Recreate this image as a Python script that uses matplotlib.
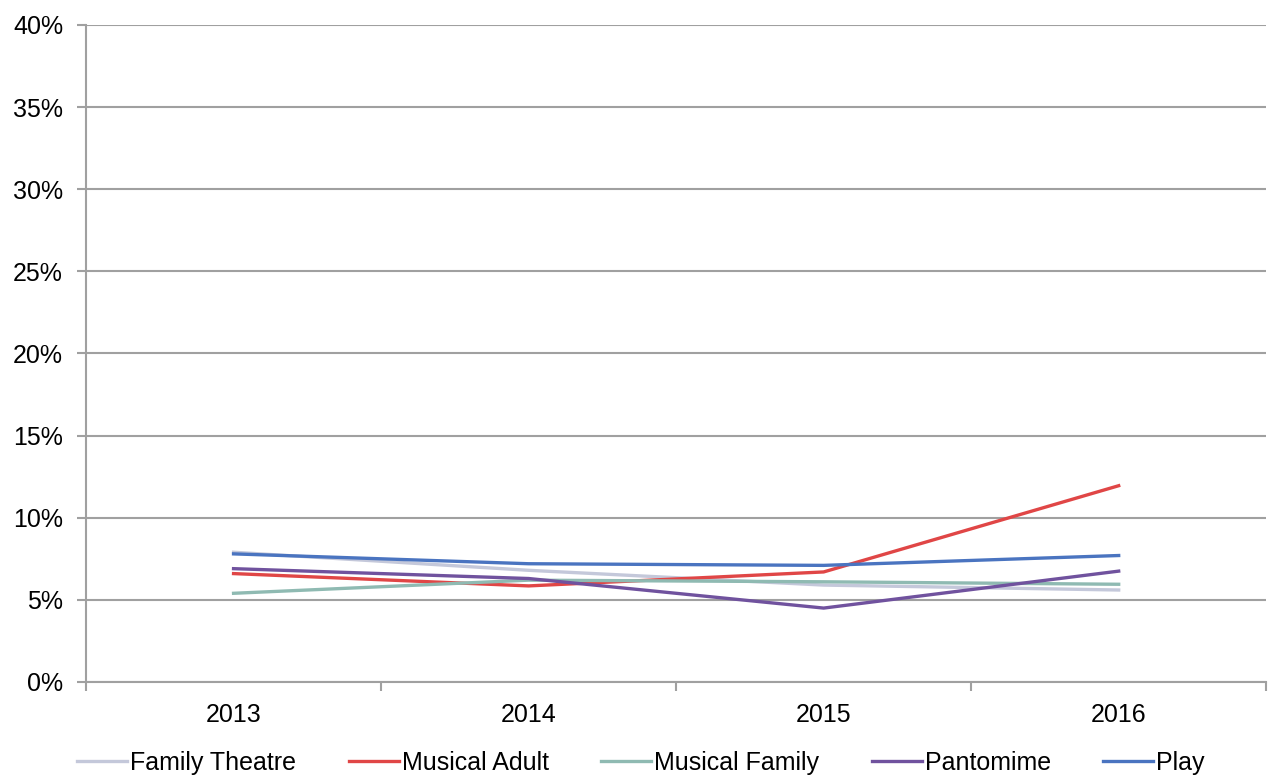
import matplotlib.pyplot as plt
from matplotlib.ticker import FixedLocator, PercentFormatter

plt.rcParams['font.family'] = ['Liberation Sans', 'DejaVu Sans']

years = ['2013', '2014', '2015', '2016']
family_theatre = [7.9, 6.8, 5.9, 5.6]
musical_adult = [6.6, 5.85, 6.7, 11.95]
musical_family = [5.4, 6.2, 6.1, 5.95]
pantomime = [6.9, 6.3, 4.5, 6.75]
play = [7.8, 7.2, 7.1, 7.7]

series = [
    ('Family Theatre', family_theatre, '#c4c8da'),
    ('Musical Adult', musical_adult, '#e04646'),
    ('Musical Family', musical_family, '#8fbab2'),
    ('Pantomime', pantomime, '#70529e'),
    ('Play', play, '#4a74c0'),
]

fig = plt.figure(figsize=(12.69, 7.78), dpi=100)
ax = fig.add_axes([0.0678, 0.1234, 0.930, 0.8445])

x = list(range(len(years)))
for name, vals, col in series:
    ax.plot(x, vals, color=col, lw=2.4, label=name)

ax.set_ylim(0, 40)
ax.set_xlim(-0.5, len(years) - 0.5)
ax.set_yticks(range(0, 41, 5))
ax.yaxis.set_major_formatter(PercentFormatter(decimals=0))
ax.yaxis.grid(True, color='#a0a0a0', lw=1.5)
ax.set_axisbelow(True)

ax.set_xticks(x)
ax.set_xticklabels(years)
ax.xaxis.set_minor_locator(FixedLocator([i - 0.5 for i in range(len(years) + 1)]))
ax.tick_params(axis='x', which='major', length=0, pad=15, labelsize=18)
ax.tick_params(axis='x', which='minor', length=6.5, width=1.5, color='#a0a0a0')
ax.tick_params(axis='y', length=6.5, width=1.5, color='#a0a0a0', labelsize=18, pad=10)

for s in ['top', 'right']:
    ax.spines[s].set_visible(False)
for s in ['left', 'bottom']:
    ax.spines[s].set_color('#a0a0a0')
    ax.spines[s].set_linewidth(1.5)

fig.legend(loc='lower center', bbox_to_anchor=(0.505, -0.025), ncol=5, frameon=False,
           fontsize=18, handlelength=2.0, handletextpad=0.12, columnspacing=2.1)

fig.savefig('out.png', dpi=100)
